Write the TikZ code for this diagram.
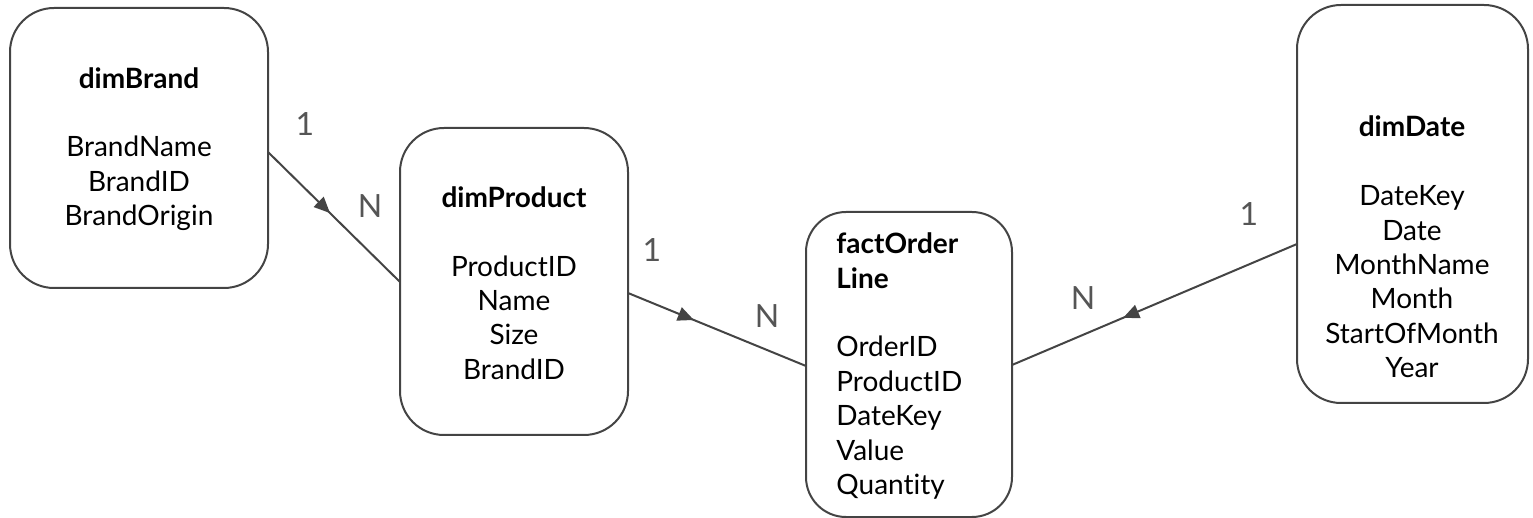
\documentclass[tikz,border=0pt]{standalone}
\usepackage{fontspec}
\setmainfont[Ligatures={NoCommon}]{Lato}
\usetikzlibrary{arrows.meta,decorations.markings}
\definecolor{linec}{HTML}{444444}
\definecolor{labc}{HTML}{555555}
\tikzset{
  entity/.style={draw=linec, line width=1pt, rounded corners=22pt},
  etext/.style={font=\fontsize{14pt}{17.2pt}\selectfont, text=black, inner sep=0pt},
  card/.style={font=\fontsize{16pt}{18pt}\selectfont, text=labc, inner sep=0pt},
  rel/.style={draw=linec, line width=1pt, postaction={decorate},
    decoration={markings, mark=at position #1 with {\arrow{Triangle[length=8pt,width=7pt]}}}},
}
\begin{document}
\begin{tikzpicture}[x=0.5pt,y=-0.5pt]
\useasboundingbox (0,0) rectangle (1533,518);
% boxes
\node[entity, minimum width=129pt, minimum height=140pt] (brand) at (139,148) {};
\node[entity, minimum width=114pt, minimum height=153.5pt] (product) at (514,281.5) {};
\node[entity, minimum width=103pt, minimum height=152.5pt, rounded corners=20pt] (fact) at (909,364.5) {};
\node[entity, minimum width=115.5pt, minimum height=199pt] (date) at (1412.5,204) {};
% texts
\node[etext, align=center] (brandtxt) at (139,149) {\textbf{dimBrand}\\[17.2pt]BrandName\\BrandID\\BrandOrigin};
\node[etext, align=center] (producttxt) at (514,283) {\textbf{dimProduct}\\[17.2pt]ProductID\\Name\\Size\\BrandID};
\node[etext, align=left, anchor=west] (facttxt) at (836,366) {\textbf{factOrder}\\\textbf{Line}\\[17.2pt]OrderID\\ProductID\\DateKey\\Value\\Quantity};
\node[etext, align=center] (datetxt) at (1412,247) {\textbf{dimDate}\\[17.2pt]DateKey\\Date\\MonthName\\Month\\StartOfMonth\\Year};
% connector endpoints
\coordinate (b1) at (268,152);
\coordinate (p1) at (400,282);
\coordinate (p2) at (628,293);
\coordinate (f1) at (806,366);
\coordinate (f2) at (1012,365);
\coordinate (d1) at (1297,244);
\draw[rel=0.47] (b1) -- (p1);
\draw[rel=0.37] (p2) -- (f1);
\draw[rel=0.61] (d1) -- (f2);
% cardinalities
\node[card] (c1) at (305,124) {1};
\node[card] (c2) at (370,206) {N};
\node[card] (c3) at (652,250) {1};
\node[card] (c4) at (767,316) {N};
\node[card] (c5) at (1083,298) {N};
\node[card] (c6) at (1249,214) {1};
\end{tikzpicture}
\end{document}
